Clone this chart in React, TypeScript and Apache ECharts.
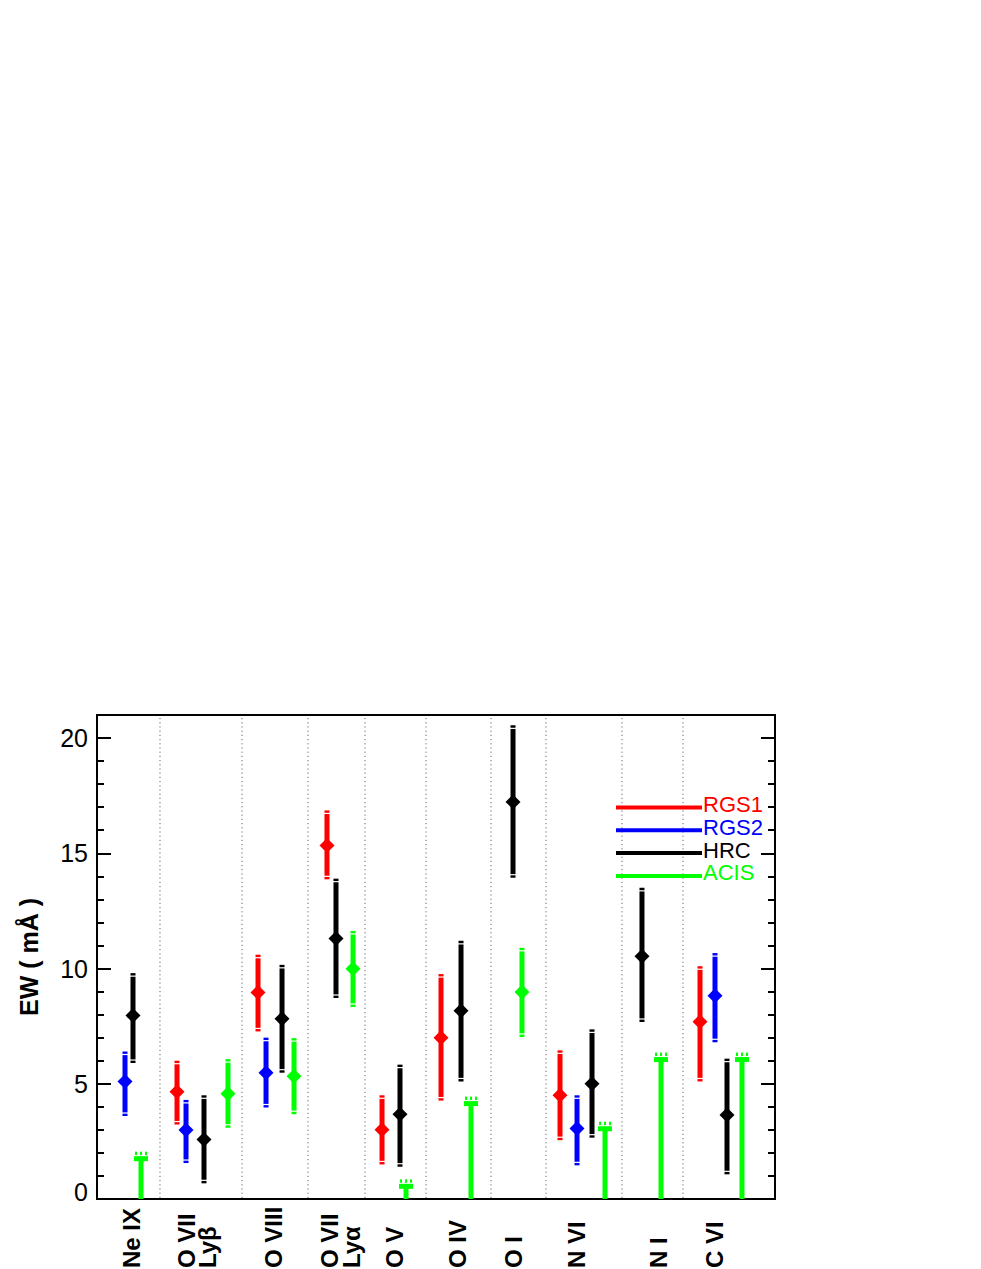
import React, { useEffect, useRef } from "react";
import * as echarts from "echarts";

// ---- data (x positions in arbitrary plot units 0..100, y = EW in mÅ) ----
const instruments = ["RGS1", "RGS2", "HRC", "ACIS"];
const instrumentColors = ["#ff0000", "#0000ff", "#000000", "#00ff00"];

const rgs1X = [11.8, 23.75, 33.92, 42.04, 50.74, 68.29, 88.94];
const rgs1Val = [4.65, 8.96, 15.34, 3.0, 7.0, 4.5, 7.69];
const rgs1Lo = [3.23, 7.27, 13.87, 1.5, 4.27, 2.55, 5.1];
const rgs1Hi = [6.0, 10.6, 16.86, 4.5, 9.76, 6.45, 10.1];

const rgs2X = [4.13, 13.13, 24.93, 70.8, 91.15];
const rgs2Val = [5.1, 2.99, 5.48, 3.06, 8.82];
const rgs2Lo = [3.6, 1.56, 3.97, 1.46, 6.8];
const rgs2Hi = [6.4, 4.3, 7.0, 4.5, 10.67];

const hrcX = [5.31, 15.78, 27.29, 35.25, 44.69, 53.69, 61.36, 73.01, 80.38, 92.92];
const hrcVal = [7.96, 2.58, 7.82, 11.3, 3.68, 8.17, 17.23, 5.0, 10.53, 3.64];
const hrcLo = [5.9, 0.68, 5.48, 8.72, 1.4, 5.1, 13.94, 2.66, 7.68, 1.07];
const hrcHi = [9.8, 4.5, 10.16, 13.9, 5.83, 11.2, 20.55, 7.36, 13.5, 6.09];

const acisX = [19.32, 29.06, 37.76, 62.68];
const acisVal = [4.57, 5.33, 9.99, 8.98];
const acisLo = [3.09, 3.68, 8.33, 7.03];
const acisHi = [6.07, 6.98, 11.63, 10.9];

const acisLimitX = [6.49, 45.58, 55.16, 74.93, 83.19, 95.13];
const acisLimitVal = [1.75, 0.55, 4.14, 3.05, 6.05, 6.05];

const separatorX = [9.29, 21.39, 31.12, 39.53, 48.53, 58.11, 66.22, 77.43, 86.43];

const lineLabels = ["Ne IX", "O VII", "Lyβ", "O VIII", "O VII", "Lyα", "O V", "O IV", "O I", "N VI", "N I", "C VI"];
const lineLabelX = [5.16, 13.13, 16.37, 25.96, 34.22, 37.61, 43.81, 53.24, 61.36, 70.65, 82.89, 91.15];

const yTickInterval = 5;
const yMinorInterval = 1;
const yMin = 0;
const yMax = 21;

const FONT = '"Liberation Sans", Arial, Helvetica, sans-serif';

function errorBarSeries(name: string, xs: number[], lo: number[], hi: number[], color: string) {
  return {
    type: "custom",
    name,
    xAxisIndex: 0,
    yAxisIndex: 0,
    clip: false,
    z: 3,
    data: xs.map((x, i) => [x, lo[i], hi[i]]),
    renderItem: (params: any, api: any) => {
      const x = api.value(0);
      const p1 = api.coord([x, api.value(1)]);
      const p2 = api.coord([x, api.value(2)]);
      return {
        type: "group",
        children: [
          {
            type: "line",
            shape: { x1: p1[0], y1: p1[1], x2: p2[0], y2: p2[1] },
            style: { stroke: color, lineWidth: 5 },
          },
          {
            type: "line",
            shape: { x1: p1[0] - 4, y1: p1[1] - 3, x2: p1[0] + 4, y2: p1[1] - 3 },
            style: { stroke: "#ffffff", lineWidth: 1.2 },
          },
          {
            type: "line",
            shape: { x1: p2[0] - 4, y1: p2[1] + 3, x2: p2[0] + 4, y2: p2[1] + 3 },
            style: { stroke: "#ffffff", lineWidth: 1.2 },
          },
        ],
      };
    },
  };
}

function diamondSeries(name: string, xs: number[], vals: number[], color: string) {
  return {
    type: "scatter",
    name,
    xAxisIndex: 0,
    yAxisIndex: 0,
    symbol: "diamond",
    symbolSize: 15,
    z: 5,
    itemStyle: { color, opacity: 1 },
    data: xs.map((x, i) => [x, vals[i]]),
  };
}

export default function App() {
  const ref = useRef<HTMLDivElement>(null);

  useEffect(() => {
    if (!ref.current) return;
    const chart = echarts.init(ref.current, null, { renderer: "svg" });
    const green = instrumentColors[3];

    const gridRect = { left: 97, top: 715, width: 678, height: 484 };

    const option: any = {
      animation: false,
      backgroundColor: "#ffffff",
      grid: [
        { ...gridRect, show: true, borderColor: "#000", borderWidth: 2, backgroundColor: "transparent" },
        { ...gridRect, show: false },
      ],
      xAxis: [
        { type: "value", gridIndex: 0, min: 0, max: 100, show: false },
        { type: "value", gridIndex: 1, min: 0, max: 100, show: false },
      ],
      yAxis: [
        {
          type: "value",
          gridIndex: 0,
          position: "left",
          min: yMin,
          max: yMax,
          interval: yTickInterval,
          name: "EW ( mÅ )",
          nameLocation: "middle",
          nameRotate: 90,
          nameGap: 56,
          nameTextStyle: { fontSize: 25, fontWeight: "bold", color: "#000", fontFamily: FONT },
          axisLine: { show: true, onZero: false, lineStyle: { color: "#000", width: 2 } },
          axisTick: { show: true, inside: true, length: 14, lineStyle: { color: "#000", width: 2 } },
          axisLabel: {
            show: true,
            fontSize: 25,
            lineHeight: 14,
            color: "#000",
            fontFamily: FONT,
            margin: 9,
            showMaxLabel: false,
            verticalAlignMinLabel: "bottom",
          },
          splitLine: { show: false },
        },
        {
          type: "value",
          gridIndex: 0,
          position: "right",
          min: yMin,
          max: yMax,
          interval: yTickInterval,
          axisLine: { show: true, onZero: false, lineStyle: { color: "#000", width: 2 } },
          axisTick: { show: true, inside: true, length: 14, lineStyle: { color: "#000", width: 2 } },
          axisLabel: { show: false },
          splitLine: { show: false },
        },
        {
          type: "value",
          gridIndex: 1,
          position: "left",
          min: yMin,
          max: yMax,
          interval: yMinorInterval,
          axisLine: { show: false, onZero: false },
          axisTick: { show: true, inside: true, length: 7, lineStyle: { color: "#000", width: 2 } },
          axisLabel: { show: false },
          splitLine: { show: false },
        },
        {
          type: "value",
          gridIndex: 1,
          position: "right",
          min: yMin,
          max: yMax,
          interval: yMinorInterval,
          axisLine: { show: false, onZero: false },
          axisTick: { show: true, inside: true, length: 7, lineStyle: { color: "#000", width: 2 } },
          axisLabel: { show: false },
          splitLine: { show: false },
        },
      ],
      graphic: instruments.flatMap((name, i) => {
        const y = 807.5 + 22.8 * i;
        return [
          {
            type: "line",
            shape: { x1: 616, y1: y, x2: 702, y2: y },
            style: { stroke: instrumentColors[i], lineWidth: 4 },
            z: 10,
          },
          {
            type: "text",
            x: 703,
            y: y - 3,
            style: {
              text: name,
              fill: instrumentColors[i],
              font: `22px ${FONT}`,
              lineHeight: 18,
              verticalAlign: "middle",
              textVerticalAlign: "middle",
              align: "left",
            },
            z: 10,
          },
        ];
      }),
      series: [
        {
          type: "custom",
          name: "separators",
          xAxisIndex: 0,
          yAxisIndex: 0,
          clip: false,
          z: 1,
          silent: true,
          data: separatorX.map((x) => [x]),
          renderItem: (params: any, api: any) => {
            const x = api.value(0);
            const a = api.coord([x, yMin]);
            const b = api.coord([x, yMax]);
            return {
              type: "line",
              shape: { x1: a[0], y1: a[1] - 1, x2: b[0], y2: b[1] + 1 },
              style: { stroke: "#666", lineWidth: 1, lineDash: [1.2, 3] },
            };
          },
        },
        {
          type: "custom",
          name: "labels",
          xAxisIndex: 0,
          yAxisIndex: 0,
          clip: false,
          z: 1,
          silent: true,
          data: lineLabelX.map((x) => [x]),
          renderItem: (params: any, api: any) => {
            const p = api.coord([api.value(0), yMin]);
            return {
              type: "text",
              x: p[0],
              y: p[1] + 69,
              rotation: Math.PI / 2,
              style: {
                text: lineLabels[params.dataIndex],
                fill: "#000",
                font: `bold 24px ${FONT}`,
                align: "left",
                verticalAlign: "middle",
                textAlign: "left",
                textVerticalAlign: "middle",
              },
            };
          },
        },
        {
          type: "custom",
          name: "ACIS limits",
          xAxisIndex: 0,
          yAxisIndex: 0,
          clip: false,
          z: 3,
          data: acisLimitX.map((x, i) => [x, acisLimitVal[i]]),
          renderItem: (params: any, api: any) => {
            const x = api.value(0);
            const p0 = api.coord([x, yMin]);
            const p1 = api.coord([x, api.value(1)]);
            const children: any[] = [
              {
                type: "line",
                shape: { x1: p0[0], y1: p0[1], x2: p1[0], y2: p1[1] },
                style: { stroke: green, lineWidth: 5 },
              },
              {
                type: "rect",
                shape: { x: p1[0] - 7, y: p1[1] - 2.5, width: 14, height: 5 },
                style: { fill: green },
              },
            ];
            [-5, 0, 5].forEach((dx) => {
              children.push({
                type: "rect",
                shape: { x: p1[0] + dx - 1, y: p1[1] - 7, width: 2, height: 3.5 },
                style: { fill: green },
              });
            });
            return { type: "group", children };
          },
        },
        errorBarSeries("RGS1", rgs1X, rgs1Lo, rgs1Hi, instrumentColors[0]),
        errorBarSeries("RGS2", rgs2X, rgs2Lo, rgs2Hi, instrumentColors[1]),
        errorBarSeries("HRC", hrcX, hrcLo, hrcHi, instrumentColors[2]),
        errorBarSeries("ACIS", acisX, acisLo, acisHi, instrumentColors[3]),
        diamondSeries("RGS1", rgs1X, rgs1Val, instrumentColors[0]),
        diamondSeries("RGS2", rgs2X, rgs2Val, instrumentColors[1]),
        diamondSeries("HRC", hrcX, hrcVal, instrumentColors[2]),
        diamondSeries("ACIS", acisX, acisVal, instrumentColors[3]),
      ],
    };

    chart.setOption(option);
    return () => {
      chart.dispose();
    };
  }, []);

  return (
    <div
      ref={ref}
      style={{ position: "absolute", left: 0, top: 0, width: 981, height: 1269, background: "#fff" }}
    />
  );
}
